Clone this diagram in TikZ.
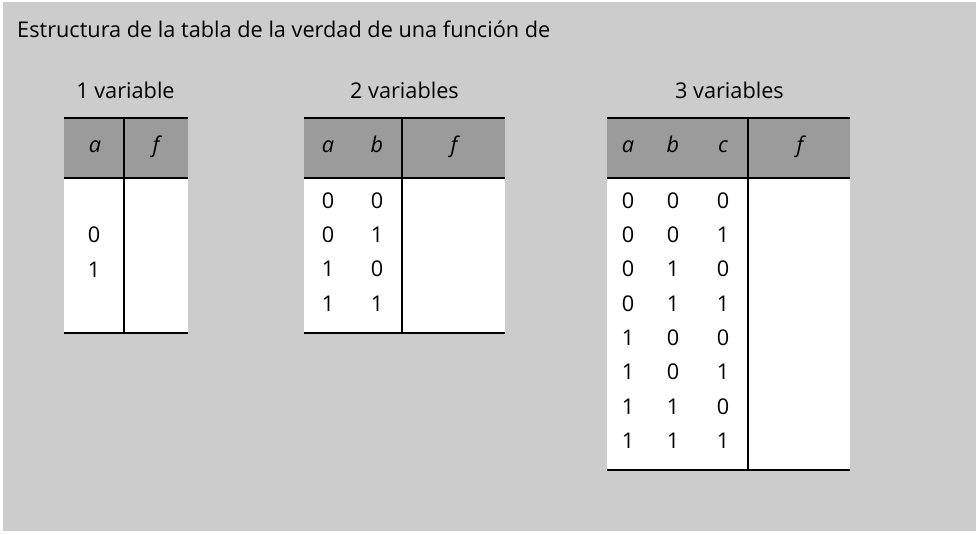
\documentclass[tikz,border=0pt]{standalone}
\usepackage{fontspec}
\setmainfont{Open Sans}
\definecolor{bg}{HTML}{CCCCCC}
\definecolor{hdr}{HTML}{9B9B9B}
\begin{document}
\begin{tikzpicture}[x=1pt,y=-1pt,
  txt/.style={font=\fontsize{21.7}{25}\selectfont, inner sep=0pt, anchor=base},
  ttl/.style={txt, anchor=base west},
  rule/.style={line width=1.4pt, black},
  hcell/.style={fill=hdr},
  bcell/.style={fill=white}]
\useasboundingbox (0,0) rectangle (978,535);
\fill[white] (0,0) rectangle (978,535);
\fill[bg] (3,2) rectangle (976,531);
\node[ttl] (title) at (17,38) {Estructura de la tabla de la verdad de una función de};
% ---------- table 1
\node[txt] (h1) at (125.5,99) {1 variable};
\fill[hcell] (64,118) rectangle (188,178);
\fill[bcell] (64,178) rectangle (188,333);
\draw[rule] (64,118) -- (188,118) (64,178) -- (188,178) (64,333) -- (188,333) (124,118) -- (124,333);
\node[txt] (t1a) at (95,152) {\itshape a};
\node[txt] (t1f) at (156,152) {\itshape f};
\node[txt] (t1r1) at (94,242.5) {0};
\node[txt] (t1r2) at (94,277) {1};
% ---------- table 2
\node[txt] (h2) at (404.5,99) {2 variables};
\fill[hcell] (304,118) rectangle (505,178);
\fill[bcell] (304,178) rectangle (505,333);
\draw[rule] (304,118) -- (505,118) (304,178) -- (505,178) (304,333) -- (505,333) (402,118) -- (402,333);
\node[txt] (t2a) at (328,152) {\itshape a};
\node[txt] (t2b) at (377,152) {\itshape b};
\node[txt] (t2f) at (454,152) {\itshape f};
\foreach \i/\a/\b [evaluate=\i as \yy using 208+34.35*(\i-1)] in {1/0/0,2/0/1,3/1/0,4/1/1}{
  \node[txt] (t2r\i a) at (328,\yy) {\a};
  \node[txt] (t2r\i b) at (377,\yy) {\b};
}
% ---------- table 3
\node[txt] (h3) at (729.5,99) {3 variables};
\fill[hcell] (607,118) rectangle (850,178);
\fill[bcell] (607,178) rectangle (850,470);
\draw[rule] (607,118) -- (850,118) (607,178) -- (850,178) (607,470) -- (850,470) (748,118) -- (748,470);
\node[txt] (t3a) at (628,152) {\itshape a};
\node[txt] (t3b) at (673,152) {\itshape b};
\node[txt] (t3c) at (723,152) {\itshape c};
\node[txt] (t3f) at (800,152) {\itshape f};
\foreach \i/\a/\b/\c [evaluate=\i as \yy using 208+34.35*(\i-1)] in {1/0/0/0,2/0/0/1,3/0/1/0,4/0/1/1,5/1/0/0,6/1/0/1,7/1/1/0,8/1/1/1}{
  \node[txt] (t3r\i a) at (628,\yy) {\a};
  \node[txt] (t3r\i b) at (673,\yy) {\b};
  \node[txt] (t3r\i c) at (723,\yy) {\c};
}
\end{tikzpicture}
\end{document}
